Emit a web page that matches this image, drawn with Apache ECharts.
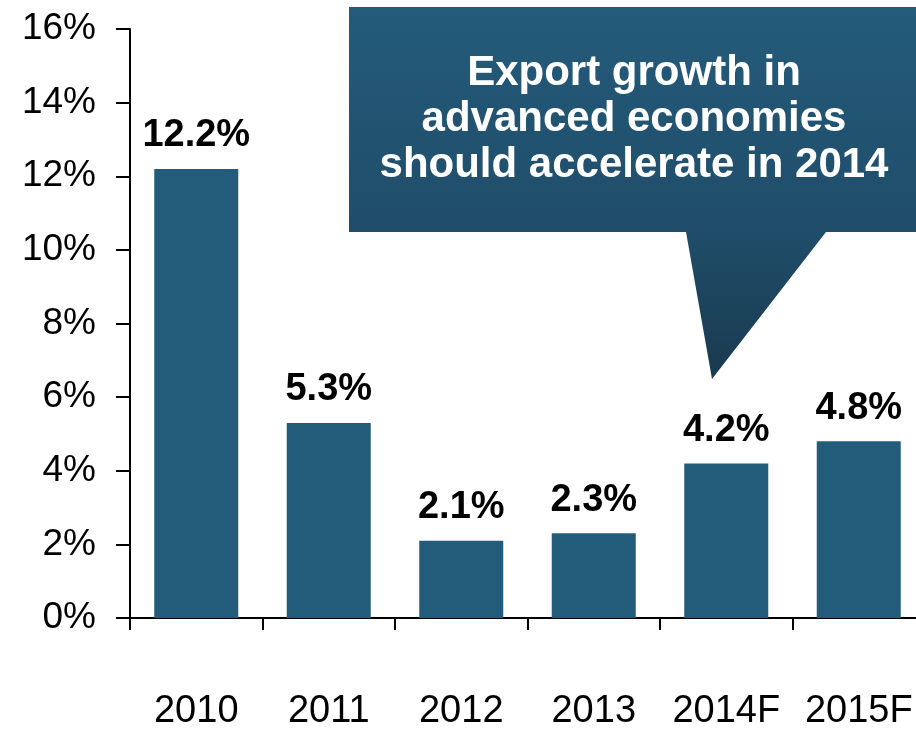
<!DOCTYPE html>
<html>
<head>
<meta charset="UTF-8">
<title>Export growth</title>
<script src="https://cdn.jsdelivr.net/npm/echarts@6/dist/echarts.min.js"></script>
<style>
body,html{ padding:0px; margin:0px; background:#fff;}
#chart_box{ width:916px; height:731px; }
</style>
</head>
<body>
<div id="chart_box"></div>
<script type="text/javascript">
// data
var years = ["2010", "2011", "2012", "2013", "2014F", "2015F"];
var growth = [12.2, 5.3, 2.1, 2.3, 4.2, 4.8];
var calloutLines = ["Export growth in", "advanced economies", "should accelerate in 2014"];

var myChart = echarts.init(document.getElementById('chart_box'));

var option = {
    animation: false,
    grid: { left: 130, top: 29, width: 795, height: 589, outerBoundsMode: 'none', containLabel: false },
    xAxis: {
        type: 'category',
        data: years,
        axisLine: { lineStyle: { color: '#000', width: 2 } },
        axisTick: { show: true, interval: 0, length: 12, lineStyle: { color: '#000', width: 2 } },
        axisLabel: {
            interval: 0,
            hideOverlap: false,
            margin: 75,
            color: '#000',
            fontFamily: 'Arial',
            fontSize: 38
        }
    },
    yAxis: {
        type: 'value',
        min: 0,
        max: 16,
        interval: 2,
        splitLine: { show: false },
        axisLine: { show: true, lineStyle: { color: '#000', width: 2 } },
        axisTick: { show: true, length: 14, lineStyle: { color: '#000', width: 2 } },
        axisLabel: {
            margin: 34,
            color: '#000',
            fontFamily: 'Arial',
            fontSize: 37,
            formatter: '{value}%'
        }
    },
    series: [{
        type: 'bar',
        data: growth,
        barWidth: 84,
        itemStyle: { color: '#235c7a' },
        label: {
            show: true,
            position: 'top',
            distance: 14,
            color: '#000',
            fontFamily: 'Arial',
            fontWeight: 'bold',
            fontSize: 38,
            formatter: function (p) { return p.value.toFixed(1) + '%'; }
        }
    }],
    graphic: [{
        type: 'polygon',
        z: 100,
        shape: {
            points: [[349, 7], [920, 7], [920, 232], [826, 232], [712, 379], [686, 232], [349, 232]]
        },
        style: {
            fill: new echarts.graphic.LinearGradient(0, 0, 0, 1, [
                { offset: 0, color: '#245b7a' },
                { offset: 0.6, color: '#1f4d69' },
                { offset: 1, color: '#1a3a50' }
            ])
        }
    }, {
        type: 'text',
        z: 101,
        x: 634,
        y: 119,
        style: {
            text: calloutLines.join('\n'),
            fill: '#fff',
            font: 'bold 42px Arial',
            lineHeight: 46,
            align: 'center',
            verticalAlign: 'middle'
        }
    }]
};

myChart.setOption(option);
</script>
</body>
</html>
